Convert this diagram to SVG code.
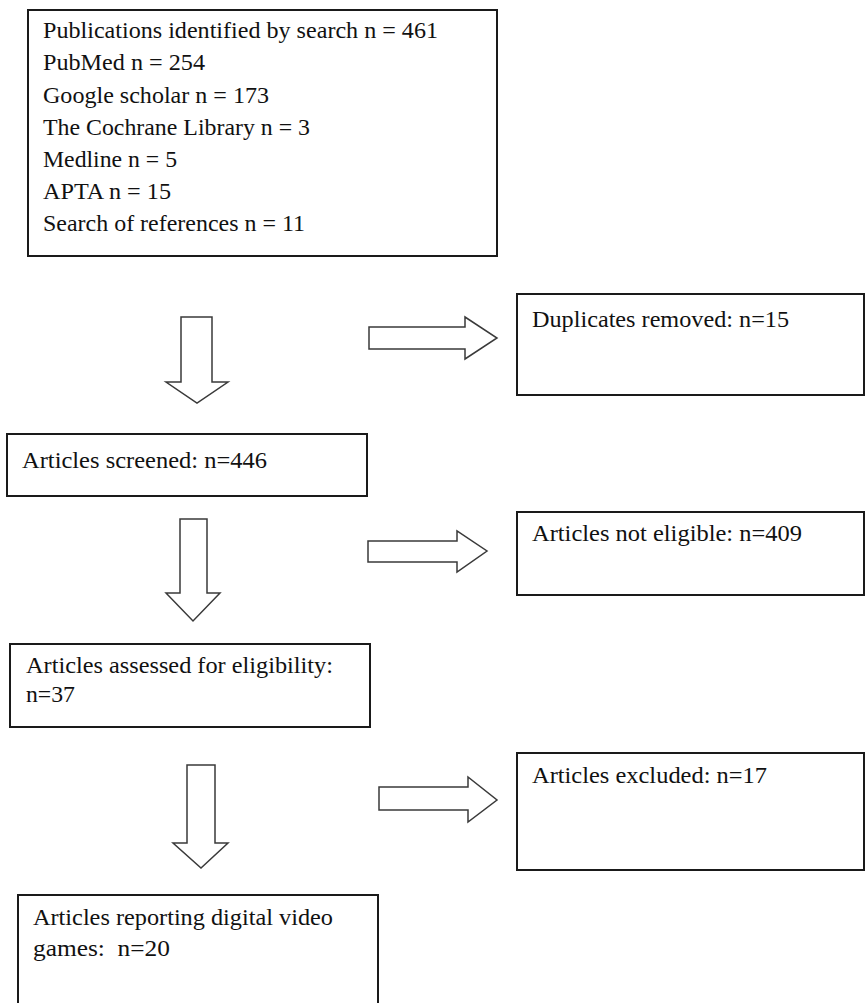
<svg xmlns="http://www.w3.org/2000/svg" width="865" height="1003" viewBox="0 0 865 1003">
<style>
.box{fill:#fff;stroke:#1a1a1a;stroke-width:2}
.arr{fill:#fff;stroke:#3a3a3a;stroke-width:1.5;stroke-linejoin:miter}
text{font-family:"Liberation Serif","Times New Roman",serif;font-size:23px;fill:#111}
</style>
<rect width="865" height="1003" fill="#fff"/>
<g id="search">
<rect class="box" x="28" y="10" width="469" height="246"/>
<text x="43" y="38" textLength="395" lengthAdjust="spacingAndGlyphs">Publications identified by search n = 461</text>
<text x="43" y="70" textLength="162" lengthAdjust="spacingAndGlyphs">PubMed n = 254</text>
<text x="43" y="103" textLength="226" lengthAdjust="spacingAndGlyphs">Google scholar n = 173</text>
<text x="43" y="135" textLength="267" lengthAdjust="spacingAndGlyphs">The Cochrane Library n = 3</text>
<text x="43" y="167" textLength="134" lengthAdjust="spacingAndGlyphs">Medline n = 5</text>
<text x="43" y="199" textLength="128" lengthAdjust="spacingAndGlyphs">APTA n = 15</text>
<text x="43" y="231" textLength="262" lengthAdjust="spacingAndGlyphs">Search of references n = 11</text>
</g>
<g id="duplicates">
<rect class="box" x="517" y="294" width="347" height="101"/>
<text x="532" y="327" textLength="257" lengthAdjust="spacingAndGlyphs">Duplicates removed: n=15</text>
</g>
<g id="screened">
<rect class="box" x="7" y="434" width="360" height="62"/>
<text x="22" y="468" textLength="245" lengthAdjust="spacingAndGlyphs">Articles screened: n=446</text>
</g>
<g id="noteligible">
<rect class="box" x="517" y="512" width="347" height="83"/>
<text x="532" y="541" textLength="270" lengthAdjust="spacingAndGlyphs">Articles not eligible: n=409</text>
</g>
<g id="assessed">
<rect class="box" x="10" y="644" width="360" height="83"/>
<text x="26" y="673" textLength="307" lengthAdjust="spacingAndGlyphs">Articles assessed for eligibility:</text>
<text x="26" y="702" textLength="49" lengthAdjust="spacingAndGlyphs">n=37</text>
</g>
<g id="excluded">
<rect class="box" x="517" y="753" width="347" height="117"/>
<text x="532" y="783" textLength="235" lengthAdjust="spacingAndGlyphs">Articles excluded: n=17</text>
</g>
<g id="included">
<rect class="box" x="18" y="895" width="360" height="120"/>
<text x="33" y="925" textLength="300" lengthAdjust="spacingAndGlyphs">Articles reporting digital video</text>
<text x="33" y="956" textLength="137" lengthAdjust="spacingAndGlyphs" xml:space="preserve">games:  n=20</text>
</g>
<g id="connectors">
<polygon class="arr" points="181,317 212,317 212,382 228,382 197,403 166,382 181,382"/>
<polygon class="arr" points="369,327 465,327 465,317 497,338 465,359 465,349 369,349"/>
<polygon class="arr" points="180,519 207,519 207,593 220,593 193,621 166,593 180,593"/>
<polygon class="arr" points="368,541 457,541 457,531 487,551 457,572 457,562 368,562"/>
<polygon class="arr" points="187,765 215,765 215,843 228,843 201,868 173,843 187,843"/>
<polygon class="arr" points="379,787 468,787 468,777 497,800 468,822 468,810 379,810"/>
</g>
</svg>
